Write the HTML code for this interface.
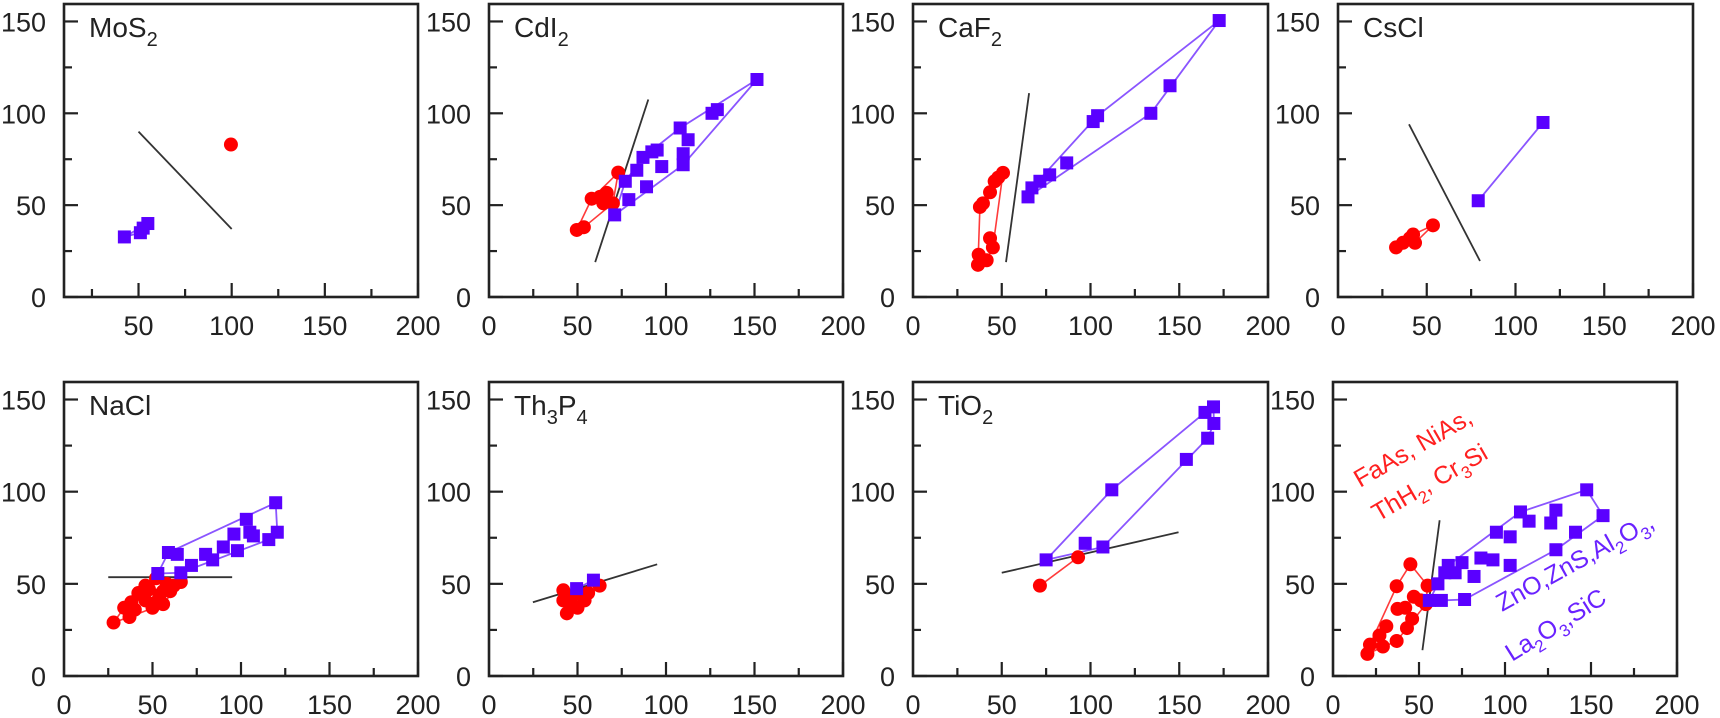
<!DOCTYPE html>
<html><head><meta charset="utf-8"><style>
html,body{margin:0;padding:0;background:#fff;}
svg{display:block;font-family:"Liberation Sans",Arial,sans-serif;}
</style></head><body>
<svg id="fig" width="1720" height="718" viewBox="0 0 1720 718" xmlns="http://www.w3.org/2000/svg"></svg>
<script>
// ---- data (x, y pairs) ----
const mos2Red = [[99.6,83]];
const mos2Purple = [[42.4,32.7],[51,35],[52.5,37.5],[55,40]];
const mos2Line = [[50,90],[100,37]];

const cdi2Red = [[49.6,36.5],[53.6,38],[58,53.5],[62.7,54.5],[64.6,51],[66.5,56.7],[70,51],[73,67.7]];
const cdi2Purple = [[71,44.7],[77,63],[79,53],[83.5,69],[87,76],[89,60],[92,79],[95,80],[97.6,71],[108,92],[112.5,85.6],[109.7,78],[109.7,72],[126,100],[129,102],[151.4,118.4]];
const cdi2Line = [[60,19],[90,107.5]];

const caf2Red = [[36.6,17.5],[37,23],[41.5,20],[37.7,49],[39.4,51],[43.4,32],[45,27],[43.4,57],[46,63],[48,65],[50.7,67.6]];
const caf2Purple = [[64.8,54.5],[67,59.4],[71.5,63],[77,66.5],[86.6,73],[101.5,95.5],[104,98.7],[134,100],[144.8,115],[172.5,150.5]];
const caf2Line = [[52.4,19],[65.4,111]];

const cscRed = [[32.7,27],[36.6,29.5],[40.5,32],[43.4,29.5],[42.3,34],[53.5,39]];
const cscPurple = [[79,52.4],[115.5,95]];
const cscLine = [[40,94],[80,19.6]];

const naclRed = [[28,29],[34,37],[37,32],[42,45],[46,49],[52,53],[56,39],[60,46],[66,51],[50,37],[46,41],[54,44],[40,36],[48,47],[58,50],[44,44],[62,49],[52,40],[38,40],[56,46]];
const naclPurple = [[53,55.6],[59,67],[64,66],[66,56],[72,60],[80,66],[84,63],[90,70],[96,77],[98,68],[103,85],[105,78],[107,76],[115.7,74],[119.6,94],[120.5,78]];
const naclLine = [[25,53.6],[95,53.6]];

const th3p4Red = [[42,46.5],[44,34],[46,39],[50,37],[54,41],[56,45],[62.5,49],[48,44],[42,41]];
const th3p4Purple = [[49.5,47.4],[59,52]];
const th3p4Line = [[24.8,40],[95,60.6]];

const tio2Red = [[71.5,49],[93,64.4]];
const tio2Purple = [[75,63],[97,72],[107,70],[112,101],[154,117.5],[166,129],[164.5,143],[169.3,146],[169.5,137]];
const tio2Line = [[50,56],[149.6,78]];

const mixRed = [[20,12],[21.5,17],[27,22],[31,27],[37,48.7],[45,60.6],[37.5,36.4],[42,37],[47,43],[46,31],[37,19],[55,49],[54,39],[29,16],[43,26],[51,41]];
const mixPurple = [[56,41],[63,41],[61,50],[65,56],[67,60],[71,56],[75,61.5],[76.5,41.5],[82,54],[86,64],[93,63],[95,78],[103,75.5],[103,60],[109,89],[114,84],[126.6,83],[129.6,90],[129.6,68.5],[141,78],[147.5,101],[157,87]];
const mixLine = [[52,14],[62,84.5]];

const yTickLabels = [0,50,100,150];
const xTickLabels = [0,50,100,150,200];

// ---- layout ----
const panels = [
 {name:'mos2',title:['MoS','2'],L:64,W:354,T:4,B:297,xmin:10,red:mos2Red,pur:mos2Purple,line:mos2Line},
 {name:'cdi2',title:['CdI','2'],L:489,W:354,T:4,B:297,xmin:0,red:cdi2Red,pur:cdi2Purple,line:cdi2Line},
 {name:'caf2',title:['CaF','2'],L:913,W:355,T:4,B:297,xmin:0,red:caf2Red,pur:caf2Purple,line:caf2Line},
 {name:'cscl',title:['CsCl'],L:1338,W:355,T:4,B:297,xmin:0,red:cscRed,pur:cscPurple,line:cscLine},
 {name:'nacl',title:['NaCl'],L:64,W:354,T:382,B:676,xmin:0,red:naclRed,pur:naclPurple,line:naclLine},
 {name:'th3p4',title:['Th','3','P','4'],L:489,W:354,T:382,B:676,xmin:0,red:th3p4Red,pur:th3p4Purple,line:th3p4Line},
 {name:'tio2',title:['TiO','2'],L:913,W:355,T:382,B:676,xmin:0,red:tio2Red,pur:tio2Purple,line:tio2Line},
 {name:'mixed',title:[],L:1333,W:344,T:382,B:676,xmin:0,red:mixRed,pur:mixPurple,line:mixLine}
];
const YMAX = 159.5, XMAX = 200;
const NS='http://www.w3.org/2000/svg';
const svg=document.getElementById('fig');
function mk(tag,attrs,parent){const e=document.createElementNS(NS,tag);for(const k in attrs)e.setAttribute(k,attrs[k]);(parent||svg).appendChild(e);return e;}
function hull(pts){
 const p=pts.slice().sort((a,b)=>a[0]-b[0]||a[1]-b[1]);
 if(p.length<3)return p;
 const cr=(o,a,b)=>(a[0]-o[0])*(b[1]-o[1])-(a[1]-o[1])*(b[0]-o[0]);
 const lo=[],up=[];
 for(const q of p){while(lo.length>=2&&cr(lo[lo.length-2],lo[lo.length-1],q)<=0)lo.pop();lo.push(q);}
 for(let i=p.length-1;i>=0;i--){const q=p[i];while(up.length>=2&&cr(up[up.length-2],up[up.length-1],q)<=0)up.pop();up.push(q);}
 lo.pop();up.pop();return lo.concat(up);
}
panels.forEach(P=>{
 const g=mk('g',{});
 
 
 const sx=v=>P.L+(v-P.xmin)/(XMAX-P.xmin)*P.W;
 const sy=v=>P.B-v/YMAX*(P.B-P.T);
 for(let v=0;v<=150;v+=25){
  const major=v%50===0;const y=sy(v);
  const t=mk('line',{x1:P.L,x2:P.L+(major?14:8),y1:y,y2:y,stroke:'#222','stroke-width':2.2},g);
  
  
 }
 yTickLabels.forEach(v=>{
  const t=mk('text',{x:P.L-18,y:sy(v)+10,'text-anchor':'end','font-size':27,fill:'#222'},g);
  t.textContent=v;
  
  
 });
 for(let v=0;v<=200;v+=25){
  if(v<=P.xmin)continue;
  const major=v%50===0;const x=sx(v);
  const t=mk('line',{x1:x,x2:x,y1:P.B,y2:P.B-(major?14:8),stroke:'#222','stroke-width':2.2},g);
  
  
 }
 xTickLabels.forEach(v=>{
  if(v<P.xmin)return;
  const t=mk('text',{x:sx(v),y:P.B+38,'text-anchor':'middle','font-size':27,fill:'#222'},g);
  t.textContent=v;
  
  
 });
 const fr=mk('rect',{x:P.L,y:P.T,width:P.W,height:P.B-P.T,fill:'none',stroke:'#222','stroke-width':2.6},g);
 
 
 if(P.title.length){
  const t=mk('text',{x:P.L+25,y:P.T+33,'font-size':28,fill:'#222'},g);
  
  
  P.title.forEach((s,i)=>{const ts=mk('tspan',{},t);ts.textContent=s;if(i%2===1){ts.setAttribute('font-size','20');ts.setAttribute('dy','9');}else if(i>0){ts.setAttribute('dy','-9');}});
 }
 const hr=hull(P.red),hp=hull(P.pur);
 [[hr,'#ff3b3b',1.6,'red-outline'],[hp,'#8a55ff',1.8,'purple-outline']].forEach(([h,c,w,n])=>{
  if(h.length<2)return;
  const pl=mk('polygon',{points:h.map(p=>sx(p[0])+','+sy(p[1])).join(' '),fill:'none',stroke:c,'stroke-width':w},g);
  
  
 });
 const bl=mk('line',{x1:sx(P.line[0][0]),y1:sy(P.line[0][1]),x2:sx(P.line[1][0]),y2:sy(P.line[1][1]),stroke:'#333','stroke-width':1.8},g);
 
 
 P.red.forEach(p=>{
  const c=mk('circle',{cx:sx(p[0]),cy:sy(p[1]),r:7,fill:'#ff0000'},g);
  
  
 });
 P.pur.forEach(p=>{
  const r=mk('rect',{x:sx(p[0])-6.5,y:sy(p[1])-6.5,width:13,height:13,fill:'#5a00ff'},g);
  
  
 });
});
</script>
<svg style="position:absolute;left:0;top:0" width="1720" height="718">
 <text transform="translate(1360,488) rotate(-30)" font-family="Liberation Sans, Arial, sans-serif" font-size="25" fill="#ff2020">FaAs, NiAs,</text>
 <text transform="translate(1378,522) rotate(-30)" font-family="Liberation Sans, Arial, sans-serif" font-size="25" fill="#ff2020">ThH<tspan font-size="17" dy="7">2</tspan><tspan dy="-7">, Cr</tspan><tspan font-size="17" dy="7">3</tspan><tspan dy="-7">Si</tspan></text>
 <text transform="translate(1502,612) rotate(-29)" font-family="Liberation Sans, Arial, sans-serif" font-size="25" fill="#6a22ff">ZnO,ZnS,Al<tspan font-size="17" dy="7">2</tspan><tspan dy="-7">O</tspan><tspan font-size="17" dy="7">3</tspan><tspan dy="-7">,</tspan></text>
 <text transform="translate(1512,662) rotate(-32)" font-family="Liberation Sans, Arial, sans-serif" font-size="25" fill="#6a22ff">La<tspan font-size="17" dy="7">2</tspan><tspan dy="-7">O</tspan><tspan font-size="17" dy="7">3</tspan><tspan dy="-7">,SiC</tspan></text>
</svg>
</body></html>
